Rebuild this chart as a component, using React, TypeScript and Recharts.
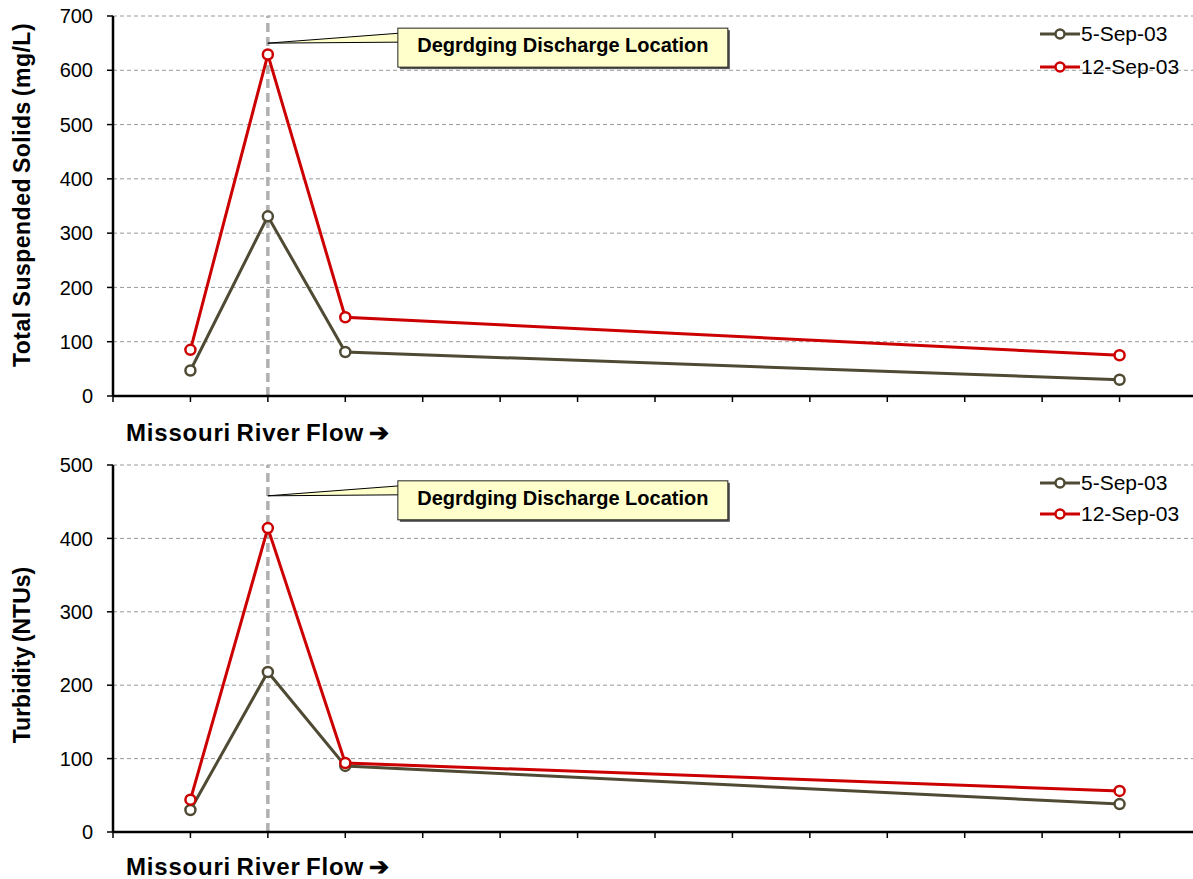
import React from 'react';
import {
  LineChart,
  Line,
  XAxis,
  YAxis,
  CartesianGrid,
  ReferenceLine,
  ReferenceDot,
} from 'recharts';

// sampling stations along the river (position index on the flow axis)
const stations = [1, 2, 3, 13];

// Total suspended solids (mg/L)
const tssSep5 = [47, 331, 81, 30];
const tssSep12 = [85, 629, 145, 75];

// Turbidity (NTUs)
const turbSep5 = [30, 218, 90, 38];
const turbSep12 = [44, 414, 94, 56];

const xTicks = [0, 1, 2, 3, 4, 5, 6, 7, 8, 9, 10, 11, 12, 13, 14];
const tssTicks = [0, 100, 200, 300, 400, 500, 600, 700];
const turbTicks = [0, 100, 200, 300, 400, 500];

const seriesNames = ['5-Sep-03', '12-Sep-03'];
const seriesColors = ['#4f4a33', '#cc0000'];

const dischargeStation = 2;
const calloutText = 'Degrdging Discharge Location';

const FONT = '"Liberation Sans", Arial, sans-serif';

const tssData = stations.map((x, i) => ({ x, s5: tssSep5[i], s12: tssSep12[i] }));
const turbData = stations.map((x, i) => ({ x, s5: turbSep5[i], s12: turbSep12[i] }));

// callout box drawn relative to the point it points at
const Callout = (props: any) => {
  const { cx, cy } = props;
  if (cx == null || cy == null) return null;
  const bx = cx + 130;
  const by = cy - 15;
  const bw = 330;
  const bh = 39;
  return (
    <g>
      <polygon
        points={`${cx},${cy} ${bx + 2},${cy - 10} ${bx + 2},${cy - 1}`}
        fill="#ffffcc"
        stroke="#000"
        strokeWidth={1}
      />
      <rect x={bx + 2} y={by + 2} width={bw} height={bh} fill="#555" />
      <rect x={bx} y={by} width={bw} height={bh} fill="#ffffcc" stroke="#222" strokeWidth={1} />
      <text
        x={bx + bw / 2}
        y={by + 24}
        textAnchor="middle"
        fontFamily={FONT}
        fontWeight="bold"
        fontSize={20}
        fill="#000"
      >
        {calloutText}
      </text>
    </g>
  );
};

const LegendBox = ({ top, gap }: { top: number; gap: number }) => (
  <div style={{ position: 'absolute', left: 1040, top, fontFamily: FONT, fontSize: 21, color: '#000' }}>
    {seriesNames.map((name, i) => (
      <div
        key={name}
        style={{ display: 'flex', alignItems: 'center', height: 22, marginBottom: i === 0 ? gap : 0 }}
      >
        <svg width={40} height={14} style={{ marginRight: 1 }}>
          <line x1={0} y1={7} x2={40} y2={7} stroke={seriesColors[i]} strokeWidth={3} />
          <circle cx={20} cy={7} r={4.5} fill="#fff" stroke={seriesColors[i]} strokeWidth={2.5} />
        </svg>
        <span>{name}</span>
      </div>
    ))}
  </div>
);

type PanelProps = {
  data: Array<any>;
  top: number;
  height: number;
  marginTop: number;
  max: number;
  ticks: number[];
  calloutY: number;
};

const Panel = ({ data, top, height, marginTop, max, ticks, calloutY }: PanelProps) => (
  <div style={{ position: 'absolute', left: 0, top }}>
    <LineChart
      width={1200}
      height={height}
      data={data}
      margin={{ top: marginTop, right: 3, left: 0, bottom: 0 }}
    >
      <CartesianGrid vertical={false} stroke="#999" strokeDasharray="4 3" />
      <XAxis
        dataKey="x"
        type="number"
        domain={[0, 14]}
        ticks={xTicks}
        tickFormatter={() => ''}
        height={44}
        tickSize={6}
        axisLine={{ stroke: '#000', strokeWidth: 2.5 }}
        tickLine={{ stroke: '#000', strokeWidth: 1.5 }}
      />
      <YAxis
        type="number"
        domain={[0, max]}
        ticks={ticks}
        width={113}
        tickSize={6}
        tickMargin={14}
        axisLine={{ stroke: '#000', strokeWidth: 2.5 }}
        tickLine={{ stroke: '#000', strokeWidth: 1.5 }}
        tick={{ fill: '#000', fontSize: 20, fontFamily: FONT }}
      />
      <ReferenceLine x={dischargeStation} stroke="#b0b0b0" strokeWidth={3.5} strokeDasharray="9 5" />
      <Line
        dataKey="s5"
        name={seriesNames[0]}
        stroke={seriesColors[0]}
        strokeWidth={3}
        dot={{ r: 5, strokeWidth: 2.5, fill: '#fff', stroke: seriesColors[0] }}
        isAnimationActive={false}
      />
      <Line
        dataKey="s12"
        name={seriesNames[1]}
        stroke={seriesColors[1]}
        strokeWidth={3}
        dot={{ r: 5, strokeWidth: 2.5, fill: '#fff', stroke: seriesColors[1] }}
        isAnimationActive={false}
      />
      <ReferenceDot x={dischargeStation} y={calloutY} shape={(p: any) => <Callout {...p} />} />
    </LineChart>
  </div>
);

const yTitle = (text: string, cy: number, spacing: number) => (
  <div
    style={{
      position: 'absolute',
      left: 22,
      top: cy,
      transform: 'translate(-50%, -50%) rotate(-90deg)',
      whiteSpace: 'nowrap',
      fontFamily: FONT,
      fontWeight: 'bold',
      fontSize: 23,
      letterSpacing: spacing,
      wordSpacing: -2,
      lineHeight: '24px',
    }}
  >
    {text}
  </div>
);

const xTitle = (top: number) => (
  <div
    style={{
      position: 'absolute',
      left: 126,
      top,
      whiteSpace: 'nowrap',
      fontFamily: FONT,
      fontWeight: 'bold',
      fontSize: 24,
      letterSpacing: 0.8,
      lineHeight: '24px',
      wordSpacing: -2,
    }}
  >
    Missouri River Flow ➔
  </div>
);

export default function App() {
  return (
    <div
      style={{
        position: 'absolute',
        left: 0,
        top: 0,
        width: 1193,
        height: 879,
        overflow: 'hidden',
        background: '#fff',
      }}
    >
      <Panel data={tssData} top={0} height={440} marginTop={16} max={700} ticks={tssTicks} calloutY={650} />
      <Panel data={turbData} top={440} height={436} marginTop={25} max={500} ticks={turbTicks} calloutY={458} />
      <LegendBox top={23} gap={11} />
      <LegendBox top={472} gap={9} />
      {yTitle('Total Suspended Solids (mg/L)', 195, 0.5)}
      {yTitle('Turbidity (NTUs)', 655, 0)}
      {xTitle(421)}
      {xTitle(855)}
    </div>
  );
}
